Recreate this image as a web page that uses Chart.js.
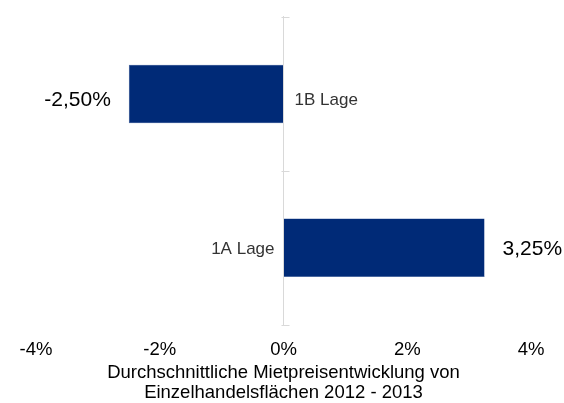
<!DOCTYPE html>
<html lang="de">
<head>
<meta charset="utf-8">
<script src="https://cdn.jsdelivr.net/npm/chart.js@4"></script>
<style>
  html, body { margin: 0; padding: 0; background: #fff; }
  #wrap { width: 564px; height: 403px; }
</style>
</head>
<body>
<div id="wrap"><canvas id="chart" width="564" height="403"></canvas></div>
<script>
// Mietpreisentwicklung je Lage (in Prozent)
const lagen = ["1B Lage", "1A Lage"];
const veraenderung = [-2.5, 3.25];
const achsenTitel = ["Durchschnittliche Mietpreisentwicklung von", "Einzelhandelsflächen 2012 - 2013"];

const FONT = "Arial, 'Liberation Sans', sans-serif";

function fmt(v) {
    return v.toFixed(2).replace(".", ",") + "%";
}

// Nulllinie mit Trennstrichen zwischen den Kategorien
const nullAchse = {
    id: "nullAchse",
    afterDatasetsDraw(chart) {
        const { ctx, chartArea, scales } = chart;
        const x0 = Math.round(scales.x.getPixelForValue(0)) - 0.5;
        ctx.save();
        ctx.strokeStyle = "#d9d9d9";
        ctx.lineWidth = 1;
        ctx.beginPath();
        ctx.moveTo(x0, chartArea.top - 1);
        ctx.lineTo(x0, chartArea.bottom + 1);
        for (let i = 0; i <= lagen.length; i++) {
            const y = Math.round(scales.y.getPixelForValue(i - 0.5)) + 0.5;
            ctx.moveTo(x0 - 2, y);
            ctx.lineTo(x0 + 6, y);
        }
        ctx.stroke();
        ctx.restore();
    }
};

// Werte an den Balkenenden, Lage-Namen auf der Gegenseite
const beschriftung = {
    id: "beschriftung",
    afterDatasetsDraw(chart) {
        const { ctx, scales } = chart;
        const x0 = scales.x.getPixelForValue(0);
        const dy = [6.5, 1.5];
        ctx.save();
        ctx.textBaseline = "middle";
        veraenderung.forEach((v, i) => {
            const y = scales.y.getPixelForValue(i) + dy[i];
            const xe = scales.x.getPixelForValue(v);
            const neg = v < 0;
            ctx.fillStyle = "#000";
            ctx.font = "21px " + FONT;
            ctx.textAlign = neg ? "right" : "left";
            ctx.fillText(fmt(v), neg ? xe - 18 : xe + 18, y);
            ctx.fillStyle = "#333";
            ctx.font = "17px " + FONT;
            ctx.textAlign = neg ? "left" : "right";
            ctx.fillText(lagen[i], neg ? x0 + 11 : x0 - 9, y);
        });
        ctx.restore();
    }
};

new Chart(document.getElementById("chart"), {
    type: "bar",
    data: {
        labels: lagen,
        datasets: [{
            data: veraenderung,
            backgroundColor: "#002a77",
            borderColor: "#2a4d8f",
            borderWidth: 0.5,
            categoryPercentage: 1,
            barPercentage: 0.38
        }]
    },
    options: {
        indexAxis: "y",
        responsive: false,
        animation: false,
        layout: { padding: { left: 36, right: 33, top: 17, bottom: 0 } },
        plugins: {
            legend: { display: false },
            tooltip: { enabled: false }
        },
        scales: {
            x: {
                min: -4,
                max: 4,
                ticks: {
                    stepSize: 2,
                    color: "#000",
                    font: { family: FONT, size: 18.5, lineHeight: 1.2 },
                    padding: 14,
                    callback: v => v + "%"
                },
                grid: { display: false, drawTicks: false },
                border: { display: false },
                title: {
                    display: true,
                    text: achsenTitel,
                    color: "#000",
                    font: { family: FONT, size: 18.5, lineHeight: 20 / 18.5 },
                    padding: { top: -12, bottom: 0 }
                }
            },
            y: {
                display: false
            }
        }
    },
    plugins: [nullAchse, beschriftung]
});
</script>
</body>
</html>
